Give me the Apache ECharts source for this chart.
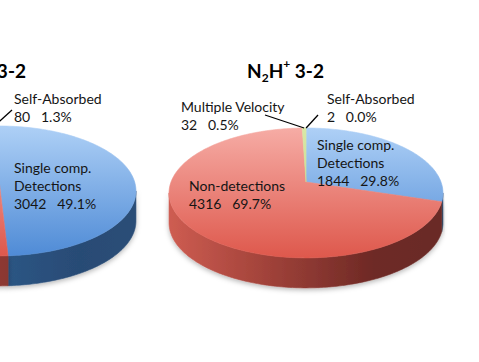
<!DOCTYPE html>
<html><head><meta charset="utf-8">
<script src="https://cdn.jsdelivr.net/npm/echarts@6/dist/echarts.min.js"></script>
<style>html,body{margin:0;padding:0;background:#fff}#c{width:479px;height:362px}</style>
</head><body><div id="c"></div>
<script>
// ---- data ----
const categories = ['Self-Absorbed', 'Single comp. Detections', 'Non-detections', 'Multiple Velocity'];
const labelNames = ['Self-Absorbed', 'Single comp.\nDetections', 'Non-detections', 'Multiple Velocity'];
const hcoCounts = [80, 3042, 2900, 172];
const n2hCounts = [2, 1844, 4316, 32];
const hcoTitle = ['HCO', '+', '', ' 3-2'];   // base, sup, sub, rest
const n2hTitle = ['N', '', '2', 'H', '+', ' 3-2'];

// ---- geometry / style ----
const P = 0.1685, A = 135, B = 63.1, DEPTH = 30;
const topColors = [
  ['#d9e8a6', '#b9d27e'],
  ['#aed0f6', '#4f8bd6'],
  ['#f6aca5', '#de584c'],
  ['#d9e8a6', '#b9d27e']
];
const sideColors = [
  [[0, '#9bb45e'], [1, '#6d8237']],
  [[0, '#4a7ab2'], [0.45, '#2e5888'], [0.8, '#284b75'], [1, '#2c4e77']],
  [[0, '#cd5c51'], [0.3, '#a8463d'], [0.75, '#6e2925'], [1, '#6a2b27']],
  [[0, '#9bb45e'], [1, '#6d8237']]
];
const pies = [
  { values: hcoCounts, cx: -1, cy: 180, start: -4.65,
    labels: { 0: { x: 14, y: 89, lx: 12, ly: 110 }, 1: { x: 14, y: 158 } } },
  { values: n2hCounts, cx: 306, cy: 182, start: 0,
    labels: { 0: { x: 327, y: 89, lx: 318, ly: 115 }, 1: { x: 317, y: 135 },
              2: { x: 189, y: 176 }, 3: { x: 181, y: 97.5, lx: 265, ly: 115 } } }
];

function proj(cfg, deg, dy) {
  const t = deg * Math.PI / 180, u = Math.sin(t), w = -Math.cos(t), D = 1 - P * w;
  return [cfg.cx + A * u / D, cfg.cy + B * w / D + (dy || 0)];
}
function arc(cfg, a0, a1, dy) {
  const n = Math.max(2, Math.ceil(Math.abs(a1 - a0) / 1) + 1), pts = [];
  for (let k = 0; k < n; k++) pts.push(proj(cfg, a0 + (a1 - a0) * k / (n - 1), dy));
  return pts;
}
const VIS0 = Math.acos(-P) * 180 / Math.PI, VIS1 = 360 - VIS0;

function makeRender(cfg) {
  const vals = cfg.values;
  const total = vals.reduce((a, b) => a + b, 0);
  const cum = [0];
  vals.forEach(v => cum.push(cum[cum.length - 1] + v));
  return function (params, api) {
    const i = params.dataIndex;
    const v = api.value(0);
    const a0 = cfg.start + cum[i] / total * 360;
    const a1 = a0 + v / total * 360;
    const children = [];
    const topY = cfg.cy - B / (1 + P), botY = cfg.cy + B / (1 - P);
    const topFill = new echarts.graphic.LinearGradient(0, topY, 0, botY,
      [{ offset: 0, color: topColors[i][0] }, { offset: 1, color: topColors[i][1] }], true);
    const sideFill = new echarts.graphic.LinearGradient(cfg.cx - A, 0, cfg.cx + A, 0,
      sideColors[i].map(s => ({ offset: s[0], color: s[1] })), true);
    // side walls (front visible part only)
    for (let k = -1; k <= 1; k++) {
      const s = Math.max(a0, VIS0 + 360 * k), e = Math.min(a1, VIS1 + 360 * k);
      if (e > s) {
        const pts = arc(cfg, s, e, 0).concat(arc(cfg, e, s, DEPTH));
        children.push({ type: 'polygon', z2: 10, shape: { points: pts },
          style: { fill: sideFill, stroke: sideFill, lineWidth: 0.6,
                   shadowBlur: 5, shadowOffsetY: 2, shadowColor: 'rgba(0,0,0,0.28)' } });
      }
    }
    // top face
    const tp = [[cfg.cx, cfg.cy]].concat(arc(cfg, a0, a1, 0));
    children.push({ type: 'polygon', z2: 20, shape: { points: tp },
      style: { fill: topFill, stroke: topFill, lineWidth: 0.6 } });
    // label
    const lab = cfg.labels[i];
    if (lab) {
      const pct = (v / total * 100).toFixed(1);
      children.push({ type: 'text', z2: 30, style: {
        x: lab.x, y: lab.y, text: labelNames[i] + '\n' + v + '   ' + pct + '%',
        fontFamily: 'Lato', fontSize: 14, lineHeight: 18, fill: '#151515',
        align: 'left', verticalAlign: 'top' } });
      if (lab.lx !== undefined) {
        const m = proj(cfg, (a0 + a1) / 2, 0);
        children.push({ type: 'line', z2: 30, shape: { x1: lab.lx, y1: lab.ly, x2: m[0], y2: m[1] },
          style: { stroke: '#000', lineWidth: 1.3 } });
      }
    }
    return { type: 'group', children: children };
  };
}

const richT = {
  b: { fontFamily: 'Lato', fontWeight: 'bold', fontSize: 19, lineHeight: 26, fill: '#000' },
  p: { fontFamily: 'Lato', fontWeight: 'bold', fontSize: 12, lineHeight: 20, verticalAlign: 'top', fill: '#000' },
  s: { fontFamily: 'Lato', fontWeight: 'bold', fontSize: 12, lineHeight: 10, verticalAlign: 'bottom', fill: '#000' }
};
const hcoRich = '{b|' + hcoTitle[0] + '}{p|' + hcoTitle[1] + '}{b|' + hcoTitle[3] + '}';
const n2hRich = '{b|' + n2hTitle[0] + '}{s|' + n2hTitle[2] + '}{b|' + n2hTitle[3] + '}{p|' + n2hTitle[4] + '}{b|' + n2hTitle[5] + '}';

const chart = echarts.init(document.getElementById('c'), null, { renderer: 'svg' });
chart.setOption({
  animation: false,
  backgroundColor: '#fff',
  graphic: [
    { type: 'text', x: 26, y: 70, style: { text: hcoRich, rich: richT, align: 'right', verticalAlign: 'middle' } },
    { type: 'text', x: 285.5, y: 70, style: { text: n2hRich, rich: richT, align: 'center', verticalAlign: 'middle' } }
  ],
  series: pies.map((cfg, j) => ({
    type: 'custom',
    name: j === 0 ? 'HCO+ 3-2' : 'N2H+ 3-2',
    coordinateSystem: 'none',
    renderItem: makeRender(cfg),
    data: cfg.values.map((v, i) => ({ name: categories[i], value: [v] }))
  }))
});
</script>
</body></html>
